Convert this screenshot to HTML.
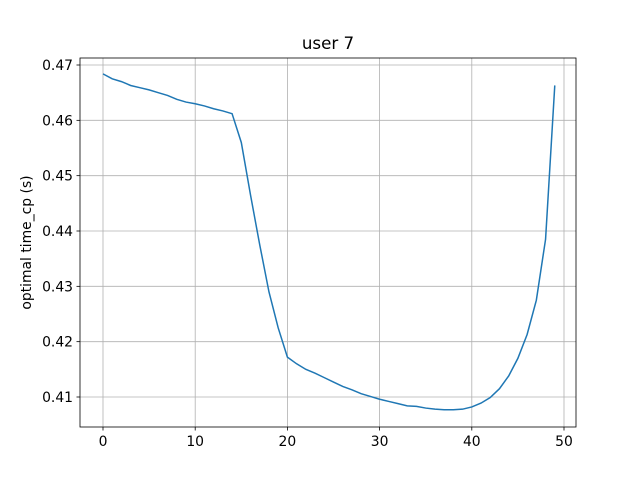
<!DOCTYPE html>
<html><head><meta charset="utf-8"><style>
body{margin:0;background:#fff;}
svg{display:block;font-family:"DejaVu Sans","Liberation Sans",sans-serif;}
</style></head><body>
<svg id="chart" width="640" height="480"></svg>
<script>
const xTicks=[0,10,20,30,40,50];
const yTicks=[0.41,0.42,0.43,0.44,0.45,0.46,0.47];
const yTickLabels=["0.41","0.42","0.43","0.44","0.45","0.46","0.47"];
const series=[0.4684,0.4675,0.4670,0.4663,0.4659,0.4655,0.4650,0.4645,0.4638,0.4633,0.4630,0.4626,0.4621,0.4617,0.4612,0.4560,0.4465,0.4375,0.4290,0.4225,0.4172,0.4160,0.4150,0.4143,0.4135,0.4127,0.4119,0.4113,0.4106,0.4101,0.4096,0.4092,0.4088,0.4084,0.4083,0.4080,0.4078,0.4077,0.4077,0.4078,0.4082,0.4089,0.4099,0.4115,0.4138,0.4170,0.4213,0.4275,0.4385,0.4663];
const NS="http://www.w3.org/2000/svg";
const svg=document.getElementById('chart');
const L=80,R=576,T=58,B=427;
const xs=v=>103+(v-0)*(564-103)/50;
const ys=v=>397-(v-0.41)*(397-65)/0.06;
function mk(tag,attrs,parent){const e=document.createElementNS(NS,tag);for(const k in attrs)e.setAttribute(k,attrs[k]);(parent||svg).appendChild(e);return e;}
xTicks.forEach(t=>{
  const g=mk('line',{x1:xs(t),x2:xs(t),y1:T,y2:B,stroke:'#b0b0b0','stroke-width':0.8});
  
  
  mk('line',{x1:xs(t),x2:xs(t),y1:B,y2:B+3.5,stroke:'#000','stroke-width':0.8});
  const tx=mk('text',{x:xs(t),y:B+19,'font-size':13.9,'text-anchor':'middle'});
  tx.textContent=t;
  
  
});
yTicks.forEach((t,i)=>{
  const g=mk('line',{x1:L,x2:R,y1:ys(t),y2:ys(t),stroke:'#b0b0b0','stroke-width':0.8});
  
  
  mk('line',{x1:L-3.5,x2:L,y1:ys(t),y2:ys(t),stroke:'#000','stroke-width':0.8});
  const tx=mk('text',{x:L-7,y:ys(t)+5,'font-size':13.9,'text-anchor':'end'});
  tx.textContent=yTickLabels[i];
  
  
});
const p=mk('polyline',{points:series.map((v,i)=>xs(i)+','+ys(v)).join(' '),fill:'none',stroke:'#1f77b4','stroke-width':1.5});


const fr=mk('rect',{x:L,y:T,width:R-L,height:B-T,fill:'none',stroke:'#000','stroke-width':0.8});


const ti=mk('text',{x:(L+R)/2,y:49,'font-size':16.7,'text-anchor':'middle'});
ti.textContent='user 7';


const yl=mk('text',{x:0,y:0,'font-size':13.9,'text-anchor':'middle',transform:'translate(31,'+((T+B)/2)+') rotate(-90)'});
yl.textContent='optimal time_cp (s)';


</script>
</body></html>
